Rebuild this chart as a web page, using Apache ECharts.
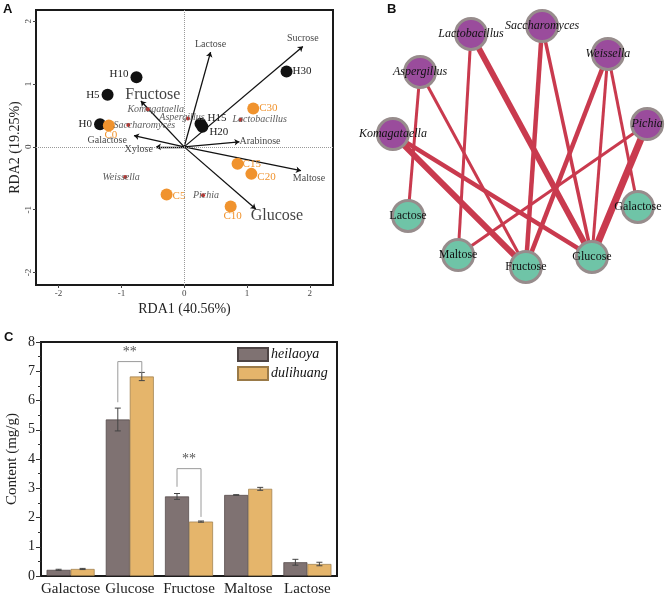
<!DOCTYPE html>
<html>
<head>
<meta charset="utf-8">
<script src="https://cdn.jsdelivr.net/npm/echarts@6/dist/echarts.min.js"></script>
<style>
  html, body { margin: 0; padding: 0; background: #fff; }
  #chart { width: 666px; height: 597px; }
</style>
</head>
<body>
<div id="chart"></div>
<script>
// ---- panel A: RDA biplot ----
const sampleNamesH = ['H0', 'H5', 'H10', 'H15', 'H20', 'H30']
const sampleRda1H = [-1.34, -1.22, -0.76, 0.26, 0.29, 1.63]
const sampleRda2H = [0.36, 0.83, 1.11, 0.37, 0.32, 1.20]

const sampleNamesC = ['C0', 'C5', 'C10', 'C15', 'C20', 'C30']
const sampleRda1C = [-1.20, -0.28, 0.74, 0.85, 1.07, 1.10]
const sampleRda2C = [0.34, -0.76, -0.95, -0.27, -0.43, 0.61]

const genusNames = ['Komagataella', 'Aspergillus', 'Saccharomyces', 'Lactobacillus', 'Weissella', 'Pichia']
const genusRda1 = [-0.58, 0.06, -0.89, 0.90, -0.94, 0.30]
const genusRda2 = [0.60, 0.45, 0.35, 0.43, -0.48, -0.77]

const sugarNames = ['Lactose', 'Sucrose', 'Fructose', 'Galactose', 'Xylose', 'Arabinose', 'Maltose', 'Glucose']
const sugarRda1 = [0.42, 1.89, -0.69, -0.80, -0.45, 0.88, 1.86, 1.14]
const sugarRda2 = [1.51, 1.60, 0.73, 0.18, 0.00, 0.08, -0.38, -0.99]

const rdaTicks = [-2, -1, 0, 1, 2]

// ---- panel B: network ----
const nodeNames = ['Lactobacillus', 'Saccharomyces', 'Weissella', 'Aspergillus', 'Komagataella', 'Pichia',
                   'Lactose', 'Galactose', 'Maltose', 'Fructose', 'Glucose']
const nodeKinds = ['genus', 'genus', 'genus', 'genus', 'genus', 'genus',
                   'sugar', 'sugar', 'sugar', 'sugar', 'sugar']
const nodeX = [3.25, 5.79, 8.14, 1.43, 0.46, 9.54, 1.00, 9.21, 2.79, 5.21, 7.57]
const nodeY = [9.30, 9.59, 8.56, 7.89, 5.59, 5.96, 2.56, 2.89, 1.11, 0.67, 1.04]

const edgeSource = ['Lactobacillus', 'Lactobacillus', 'Saccharomyces', 'Saccharomyces', 'Weissella', 'Weissella', 'Weissella',
                    'Pichia', 'Pichia', 'Aspergillus', 'Aspergillus', 'Komagataella', 'Komagataella']
const edgeTarget = ['Glucose', 'Maltose', 'Fructose', 'Glucose', 'Fructose', 'Glucose', 'Galactose',
                    'Glucose', 'Maltose', 'Lactose', 'Fructose', 'Fructose', 'Glucose']
const edgeWeight = [6, 3, 4.5, 3.5, 4.5, 3, 3, 7, 3, 3, 3, 6, 4.5]

// ---- panel C: sugar content ----
const sugarCategories = ['Galactose', 'Glucose', 'Fructose', 'Maltose', 'Lactose']
const heilaoya = [0.21, 5.35, 2.72, 2.77, 0.47]
const heilaoyaErr = [0.02, 0.39, 0.10, 0.01, 0.10]
const dulihuang = [0.24, 6.82, 1.86, 2.98, 0.41]
const dulihuangErr = [0.02, 0.14, 0.02, 0.05, 0.06]
// [category index, left leg bottom, right leg bottom, bracket top]
const sigBrackets = [[1, 5.94, 6.95, 7.33], [2, 3.05, 2.02, 3.67]]
const sigLabels = ['**', '**']

const serif = 'Liberation Serif'
const orange = '#f0932e'
const barW = 24

// label placement for the biplot (style, not data)
const sampleLabelPos = {
    H0: ['left', [0, 0]], H5: ['left', [0, 0]], H10: ['left', [0, -3]], H15: ['right', [-1, -6]],
    H20: ['right', [-1, 5]], H30: ['right', [-2, 0]],
    C0: ['bottom', [2, -4]], C5: ['right', [-2, 2]], C10: ['bottom', [2, -4]], C15: ['right', [-3, 0]],
    C20: ['right', [-2, 3]], C30: ['right', [-2, 0]]
}
const sugarLabelPos = {
    Lactose: ['top', [0, 0], 10], Sucrose: ['top', [0, 0], 10], Fructose: ['top', [12, 5], 16],
    Galactose: ['left', [-4, 5], 10], Xylose: ['left', [0, 3], 10], Arabinose: ['right', [-3, 0], 10],
    Maltose: ['bottom', [8, 0], 10], Glucose: ['right', [-8, 7], 16]
}
const genusLabelOffset = {
    Komagataella: [8, 0], Aspergillus: [-6, -1], Saccharomyces: [16, 0],
    Lactobacillus: [19, 0], Weissella: [-4, 0], Pichia: [3, 0]
}

const chart = echarts.init(document.getElementById('chart'), null, { renderer: 'canvas' })

function sampleData (names, xs, ys, color) {
    return names.map((n, i) => ({
        name: n,
        value: [xs[i], ys[i]],
        label: { position: sampleLabelPos[n][0], offset: sampleLabelPos[n][1], color: color }
    }))
}

function errorBars (values, errs, side) {
    return {
        type: 'custom',
        xAxisIndex: 2,
        yAxisIndex: 2,
        z: 5,
        silent: true,
        data: values.map((v, i) => [i, v, errs[i]]),
        renderItem (params, api) {
            const c = api.value(0), v = api.value(1), e = api.value(2)
            const x = api.coord([c, v])[0] + side * barW / 2
            const yt = api.coord([c, v + e])[1]
            const yb = api.coord([c, v - e])[1]
            const st = { stroke: '#444', lineWidth: 1 }
            return {
                type: 'group',
                children: [
                    { type: 'line', shape: { x1: x, y1: yt, x2: x, y2: yb }, style: st },
                    { type: 'line', shape: { x1: x - 3, y1: yt, x2: x + 3, y2: yt }, style: st },
                    { type: 'line', shape: { x1: x - 3, y1: yb, x2: x + 3, y2: yb }, style: st }
                ]
            }
        }
    }
}

const option = {
    animation: false,
    textStyle: { fontFamily: serif },
    graphic: [
        { type: 'text', left: 3, top: 3, style: { text: 'A', font: 'bold 13px Liberation Sans', fill: '#111' } },
        { type: 'text', left: 387, top: 3, style: { text: 'B', font: 'bold 13px Liberation Sans', fill: '#111' } },
        { type: 'text', left: 4, top: 331, style: { text: 'C', font: 'bold 13px Liberation Sans', fill: '#111' } }
    ],
    legend: {
        data: ['heilaoya', 'dulihuang'],
        orient: 'vertical',
        left: 237,
        top: 347,
        padding: 0,
        itemWidth: 30,
        itemHeight: 13,
        itemGap: 4,
        icon: 'rect',
        textStyle: { fontFamily: serif, fontStyle: 'italic', fontSize: 14, color: '#111', padding: [0, 0, 0, -2] }
    },
    grid: [
        { left: 36, top: 10, width: 297, height: 275, show: true, borderColor: '#1a1a1a', borderWidth: 2, backgroundColor: 'transparent' },
        { left: 380, top: 15, width: 280, height: 270 },
        { left: 41, top: 342, width: 296, height: 234, show: true, borderColor: '#1a1a1a', borderWidth: 2, backgroundColor: 'transparent' }
    ],
    xAxis: [
        {
            gridIndex: 0, type: 'value', min: -2.36, max: 2.37,
            name: 'RDA1 (40.56%)', nameLocation: 'middle', nameGap: 17,
            nameTextStyle: { fontFamily: serif, fontSize: 14, color: '#222' },
            axisLine: { show: false, onZero: false },
            axisTick: { show: true, length: 3, customValues: rdaTicks, lineStyle: { color: '#444' } },
            axisLabel: { customValues: rdaTicks, fontSize: 9, color: '#444', margin: 4 },
            splitLine: { show: false }
        },
        { gridIndex: 1, type: 'value', min: 0, max: 10, show: false },
        {
            gridIndex: 2, type: 'category', data: sugarCategories,
            axisLine: { show: false, onZero: false },
            axisTick: { alignWithLabel: true, length: 4, lineStyle: { color: '#333' } },
            axisLabel: { fontSize: 15, color: '#222', margin: 6, interval: 0 }
        }
    ],
    yAxis: [
        {
            gridIndex: 0, type: 'value', min: -2.2, max: 2.18,
            name: 'RDA2 (19.25%)', nameLocation: 'middle', nameGap: 14,
            nameTextStyle: { fontFamily: serif, fontSize: 14, color: '#222' },
            axisLine: { show: false, onZero: false },
            axisTick: { show: true, length: 3, customValues: rdaTicks, lineStyle: { color: '#444' } },
            axisLabel: { customValues: rdaTicks, fontSize: 9, color: '#444', rotate: 90, margin: 3 },
            splitLine: { show: false }
        },
        { gridIndex: 1, type: 'value', min: 0, max: 10, show: false },
        {
            gridIndex: 2, type: 'value', min: 0, max: 8, interval: 1,
            name: 'Content (mg/g)', nameLocation: 'middle', nameGap: 21,
            nameTextStyle: { fontFamily: serif, fontSize: 15, color: '#222' },
            axisLine: { show: false, onZero: false },
            axisTick: { show: true, length: 5, lineStyle: { color: '#333' } },
            minorTick: { show: true, splitNumber: 2, length: 3, lineStyle: { color: '#333' } },
            axisLabel: { fontSize: 14, color: '#222', margin: 6 },
            splitLine: { show: false }
        }
    ],
    series: [
        // zero reference lines
        {
            type: 'scatter', xAxisIndex: 0, yAxisIndex: 0, z: 1, silent: true,
            data: [[0, 0]], symbolSize: 0,
            markLine: {
                silent: true, symbol: 'none', label: { show: false },
                lineStyle: { type: 'dotted', color: '#999', width: 1 },
                data: [{ xAxis: 0 }, { yAxis: 0 }]
            }
        },
        // sugar arrows
        {
            type: 'lines', coordinateSystem: 'cartesian2d', xAxisIndex: 0, yAxisIndex: 0, z: 2,
            symbol: ['none', 'arrow'], symbolSize: 5,
            lineStyle: { color: '#111', width: 1.3, opacity: 1 },
            data: sugarNames.map((n, i) => ({ coords: [[0, 0], [sugarRda1[i], sugarRda2[i]]] }))
        },
        {
            type: 'scatter', xAxisIndex: 0, yAxisIndex: 0, z: 6, symbolSize: 0, silent: true,
            data: sugarNames.map((n, i) => ({
                name: n,
                value: [sugarRda1[i], sugarRda2[i]],
                label: { position: sugarLabelPos[n][0], offset: sugarLabelPos[n][1], fontSize: sugarLabelPos[n][2] }
            })),
            label: { show: true, formatter: '{b}', color: '#111', fontFamily: serif, distance: 3 }
        },
        // samples
        {
            type: 'scatter', xAxisIndex: 0, yAxisIndex: 0, z: 3, symbolSize: 12,
            itemStyle: { color: '#111', opacity: 1 },
            data: sampleData(sampleNamesH, sampleRda1H, sampleRda2H, '#222'),
            label: { show: true, formatter: '{b}', fontFamily: serif, fontSize: 11, distance: 2 }
        },
        {
            type: 'scatter', xAxisIndex: 0, yAxisIndex: 0, z: 3, symbolSize: 12,
            itemStyle: { color: orange, opacity: 1 },
            data: sampleData(sampleNamesC, sampleRda1C, sampleRda2C, orange),
            label: { show: true, formatter: '{b}', fontFamily: serif, fontSize: 11, distance: 2 }
        },
        // genera
        {
            type: 'scatter', xAxisIndex: 0, yAxisIndex: 0, z: 4, symbolSize: 4,
            itemStyle: { color: '#c8302c', opacity: 1 },
            data: genusNames.map((n, i) => ({
                name: n, value: [genusRda1[i], genusRda2[i]],
                label: { offset: genusLabelOffset[n] }
            })),
            label: {
                show: true, position: 'inside', formatter: '{b}', color: '#5c5c5c',
                fontFamily: serif, fontStyle: 'italic', fontSize: 10
            }
        },
        // network
        {
            type: 'graph', coordinateSystem: 'cartesian2d', xAxisIndex: 1, yAxisIndex: 1,
            layout: 'none', z: 3,
            symbol: 'circle', symbolSize: 31,
            data: nodeNames.map((n, i) => ({
                name: n,
                value: [nodeX[i], nodeY[i]],
                itemStyle: {
                    color: nodeKinds[i] === 'genus' ? '#9a4c9c' : '#6fc4a7',
                    borderColor: '#978c8c', borderWidth: 3
                },
                label: { fontStyle: nodeKinds[i] === 'genus' ? 'italic' : 'normal' }
            })),
            links: edgeSource.map((s, i) => ({
                source: s, target: edgeTarget[i], lineStyle: { width: edgeWeight[i] }
            })),
            lineStyle: { color: '#c93a4e', opacity: 1, curveness: 0 },
            label: { show: true, position: 'inside', color: '#111', fontFamily: serif, fontSize: 12 },
            emphasis: { disabled: true }
        },
        // bars
        {
            name: 'heilaoya', type: 'bar', xAxisIndex: 2, yAxisIndex: 2,
            barWidth: barW, barGap: '0%',
            itemStyle: { color: '#7f7272', borderColor: '#4d4444', borderWidth: 0.7 },
            data: heilaoya
        },
        {
            name: 'dulihuang', type: 'bar', xAxisIndex: 2, yAxisIndex: 2,
            barWidth: barW, barGap: '0%',
            itemStyle: { color: '#e5b56b', borderColor: '#9a7a48', borderWidth: 0.7 },
            data: dulihuang
        },
        errorBars(heilaoya, heilaoyaErr, -1),
        errorBars(dulihuang, dulihuangErr, 1),
        // significance brackets
        {
            type: 'custom', xAxisIndex: 2, yAxisIndex: 2, z: 6, silent: true,
            data: sigBrackets,
            renderItem (params, api) {
                const c = api.value(0)
                const xc = api.coord([c, 0])[0]
                const xl = xc - barW / 2, xr = xc + barW / 2
                const yl = api.coord([c, api.value(1)])[1]
                const yr = api.coord([c, api.value(2)])[1]
                const yt = api.coord([c, api.value(3)])[1]
                return {
                    type: 'group',
                    children: [
                        {
                            type: 'polyline',
                            shape: { points: [[xl, yl], [xl, yt], [xr, yt], [xr, yr]] },
                            style: { stroke: '#9a9a9a', lineWidth: 1, fill: null }
                        },
                        {
                            type: 'text',
                            style: {
                                text: sigLabels[params.dataIndex], x: xc, y: yt - 2,
                                align: 'center', verticalAlign: 'bottom',
                                font: '14px Liberation Serif', fill: '#555'
                            }
                        }
                    ]
                }
            }
        }
    ]
}

chart.setOption(option)
</script>
</body>
</html>
